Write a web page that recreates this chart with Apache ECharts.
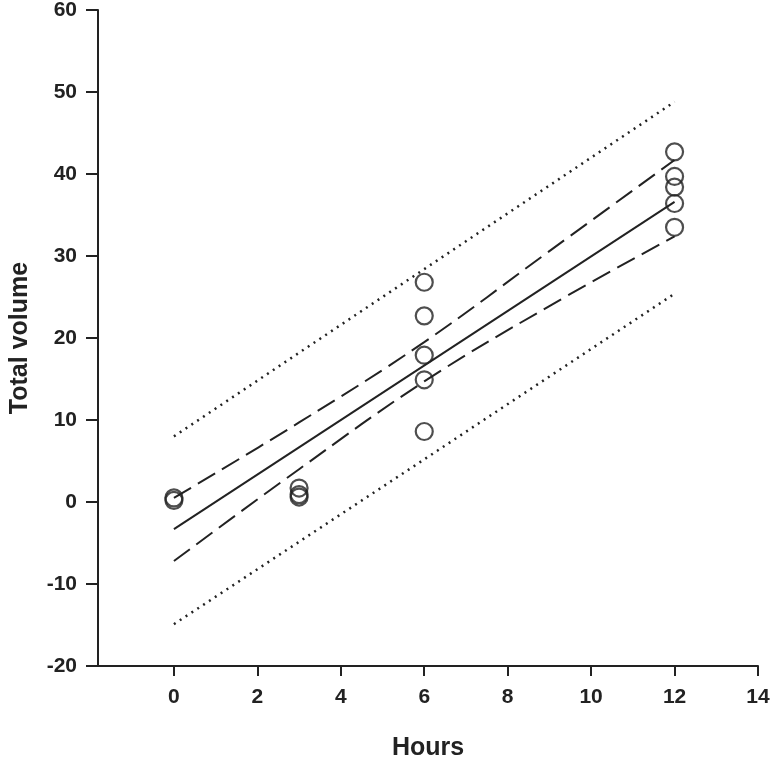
<!DOCTYPE html>
<html>
<head>
<meta charset="utf-8">
<script src="https://cdn.jsdelivr.net/npm/echarts@6/dist/echarts.min.js"></script>
<style>html,body{margin:0;padding:0;background:#fff}#c{width:771px;height:761px}</style>
</head>
<body>
<div id="c"></div>
<script>
// Data
var xTicks = [0, 2, 4, 6, 8, 10, 12, 14];
var obsX = [0, 0, 3, 3, 3, 6, 6, 6, 6, 6, 12, 12, 12, 12, 12];
var obsY = [0.5, 0.2, 1.7, 0.9, 0.6, 26.8, 22.7, 17.9, 14.9, 8.6, 42.7, 39.7, 38.4, 36.4, 33.5];
var fitX = [0, 12];
var fitY = [-3.3, 36.6];
var bandX = [0, 3, 6, 9, 12];
var ciUpper = [0.5, 9.7, 19.5, 30.6, 41.7];
var ciLower = [-7.2, 4.0, 14.7, 23.9, 32.4];
var piX = [0, 6, 12];
var piUpper = [8.0, 28.4, 48.8];
var piLower = [-14.9, 5.2, 25.4];

function pairs(xs, ys) { return xs.map(function (x, i) { return [x, ys[i]]; }); }

var ink = '#222';
var font = 'Liberation Sans, Arial, sans-serif';
var chart = echarts.init(document.getElementById('c'));
var lineBase = { type: 'line', symbol: 'none', silent: true, z: 2 };
chart.setOption({
  animation: false,
  backgroundColor: '#fff',
  grid: { left: 98, right: 13, top: 10, bottom: 95, containLabel: false, outerBoundsMode: 'none' },
  xAxis: {
    type: 'value', min: -1.82, max: 14,
    name: 'Hours', nameLocation: 'middle', nameGap: 70,
    nameTextStyle: { fontFamily: font, fontWeight: 'bold', fontSize: 25, color: ink },
    axisLine: { show: true, onZero: false, lineStyle: { color: ink, width: 2 } },
    axisTick: { show: true, length: 10, lineStyle: { color: ink, width: 2 }, customValues: xTicks },
    axisLabel: { customValues: xTicks, margin: 21, fontFamily: font, fontWeight: 'bold', fontSize: 21, color: ink },
    splitLine: { show: false }
  },
  yAxis: {
    type: 'value', min: -20, max: 60, interval: 10,
    name: 'Total volume', nameLocation: 'middle', nameGap: 65, nameRotate: 90,
    nameTextStyle: { fontFamily: font, fontWeight: 'bold', fontSize: 25, color: ink },
    axisLine: { show: true, onZero: false, lineStyle: { color: ink, width: 2 } },
    axisTick: { show: true, length: 12, lineStyle: { color: ink, width: 2 } },
    axisLabel: { margin: 21, fontFamily: font, fontWeight: 'bold', fontSize: 21, color: ink },
    splitLine: { show: false }
  },
  series: [
    Object.assign({}, lineBase, { data: pairs(piX, piUpper), lineStyle: { color: ink, width: 2.5, type: [2, 5] } }),
    Object.assign({}, lineBase, { data: pairs(piX, piLower), lineStyle: { color: ink, width: 2.5, type: [2, 5] } }),
    Object.assign({}, lineBase, { data: pairs(bandX, ciUpper), smooth: 0.4, lineStyle: { color: ink, width: 2, type: [20, 8] } }),
    Object.assign({}, lineBase, { data: pairs(bandX, ciLower), smooth: 0.4, lineStyle: { color: ink, width: 2, type: [20, 8] } }),
    Object.assign({}, lineBase, { data: pairs(fitX, fitY), lineStyle: { color: ink, width: 2, type: 'solid' } }),
    {
      type: 'scatter', data: pairs(obsX, obsY), symbol: 'circle', symbolSize: 17, z: 3,
      itemStyle: { color: 'rgba(0,0,0,0)', borderColor: ink, borderWidth: 2.2 }
    }
  ]
});
</script>
</body>
</html>
